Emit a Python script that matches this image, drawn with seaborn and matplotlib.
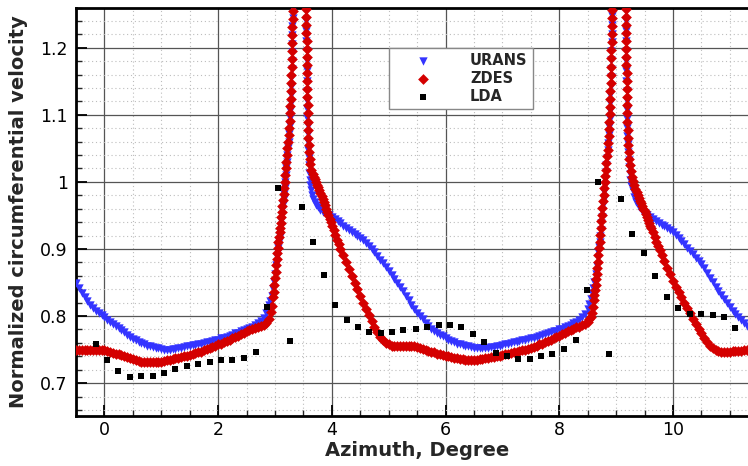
import numpy as np
import pandas as pd
import matplotlib
matplotlib.use("Agg")
import matplotlib.pyplot as plt
import seaborn as sns
from matplotlib.ticker import MultipleLocator, FuncFormatter

# ---------------- data ----------------
urans_pts = [
    (-0.50,0.849),(-0.45,0.842),(-0.40,0.835),(-0.35,0.829),(-0.30,0.822),(-0.25,0.817),(-0.20,0.812),
    (-0.15,0.808),(-0.10,0.804),(-0.05,0.801),(0.00,0.798),(0.05,0.794),(0.10,0.791),(0.15,0.788),
    (0.20,0.785),(0.25,0.782),(0.30,0.779),(0.35,0.776),(0.40,0.772),(0.45,0.769),(0.50,0.766),
    (0.55,0.764),(0.60,0.762),(0.65,0.760),(0.70,0.758),(0.75,0.756),(0.80,0.755),(0.85,0.754),
    (0.90,0.753),(0.95,0.752),(1.00,0.751),(1.05,0.750),(1.10,0.750),(1.15,0.750),(1.20,0.751),
    (1.25,0.751),(1.30,0.752),(1.35,0.753),(1.40,0.754),(1.45,0.755),(1.50,0.756),(1.55,0.757),
    (1.60,0.757),(1.65,0.758),(1.70,0.759),(1.75,0.760),(1.80,0.761),(1.85,0.762),(1.90,0.763),
    (1.95,0.764),(2.00,0.765),(2.05,0.767),(2.10,0.768),(2.15,0.769),(2.20,0.771),(2.25,0.772),
    (2.30,0.774),(2.35,0.775),(2.40,0.777),(2.45,0.779),(2.50,0.780),(2.55,0.782),(2.60,0.784),
    (2.65,0.786),(2.70,0.789),(2.75,0.792),(2.80,0.797),(2.85,0.805),(2.90,0.816),
    (2.92,0.822),(2.94,0.830),(2.96,0.840),(2.98,0.851),(3.00,0.863),(3.02,0.876),(3.04,0.888),
    (3.05,0.895),(3.06,0.902),(3.07,0.910),(3.08,0.918),(3.09,0.926),(3.10,0.934),(3.11,0.942),
    (3.12,0.950),(3.13,0.958),(3.14,0.966),(3.15,0.974),(3.16,0.982),(3.17,0.991),(3.18,1.000),
    (3.19,1.010),(3.20,1.020),(3.21,1.030),(3.22,1.040),(3.23,1.050),(3.24,1.060),(3.25,1.072),
    (3.26,1.084),(3.265,1.095),(3.27,1.106),(3.275,1.118),(3.28,1.130),(3.285,1.142),(3.29,1.155),
    (3.293,1.168),(3.296,1.180),(3.299,1.193),(3.302,1.206),(3.305,1.219),(3.308,1.232),
    (3.311,1.245),(3.314,1.258),(3.317,1.271),
    (3.545,1.270),(3.547,1.255),(3.549,1.240),(3.551,1.225),(3.553,1.210),(3.555,1.195),
    (3.557,1.180),(3.559,1.165),(3.561,1.150),(3.563,1.135),(3.565,1.120),(3.567,1.108),
    (3.570,1.095),(3.573,1.083),(3.576,1.071),(3.580,1.060),(3.585,1.048),(3.590,1.036),
    (3.595,1.025),(3.60,1.014),(3.61,1.003),(3.62,0.995),(3.63,0.988),(3.65,0.981),(3.67,0.975),
    (3.70,0.970),(3.73,0.966),(3.76,0.962),(3.80,0.958),(3.85,0.955),(3.90,0.952),(3.95,0.950),
    (4.00,0.947),(4.05,0.944),(4.10,0.941),(4.15,0.938),(4.20,0.935),(4.25,0.932),(4.30,0.929),
    (4.35,0.926),(4.40,0.923),(4.45,0.920),(4.50,0.917),(4.55,0.913),(4.60,0.909),(4.65,0.905),
    (4.70,0.900),(4.75,0.895),(4.80,0.890),(4.85,0.884),(4.90,0.879),(4.95,0.873),(5.00,0.867),
    (5.05,0.861),(5.10,0.855),(5.15,0.849),(5.20,0.843),(5.25,0.837),(5.30,0.830),(5.35,0.824),
    (5.40,0.817),(5.45,0.811),(5.50,0.805),(5.55,0.800),(5.60,0.795),(5.65,0.790),(5.70,0.785),
    (5.75,0.781),(5.80,0.778),(5.85,0.775),(5.90,0.772),(5.95,0.770),(6.00,0.767),(6.05,0.765),
    (6.10,0.763),(6.15,0.761),(6.20,0.759),(6.25,0.758),(6.30,0.757),(6.35,0.756),(6.40,0.755),
    (6.45,0.754),(6.50,0.753),(6.55,0.753),(6.60,0.752),(6.65,0.752),(6.70,0.753),(6.75,0.753),
    (6.80,0.754),(6.85,0.754),(6.90,0.755),(6.95,0.756),(7.00,0.757),(7.05,0.758),(7.10,0.759),
    (7.15,0.760),(7.20,0.761),(7.25,0.762),(7.30,0.763),(7.35,0.764),(7.40,0.765),(7.45,0.766),
    (7.50,0.767),(7.55,0.768),(7.60,0.769),(7.65,0.770),(7.70,0.772),(7.75,0.773),(7.80,0.774),
    (7.85,0.776),(7.90,0.777),(7.95,0.778),(8.00,0.780),(8.05,0.781),(8.10,0.783),(8.15,0.785),
    (8.20,0.787),(8.25,0.789),(8.30,0.791),(8.35,0.794),(8.40,0.798),(8.45,0.803),(8.50,0.810),
    (8.53,0.818),(8.56,0.826),(8.58,0.834),(8.60,0.842),(8.62,0.851),(8.64,0.862),(8.66,0.874),
    (8.68,0.887),(8.69,0.895),(8.70,0.903),(8.71,0.911),(8.72,0.920),(8.73,0.929),(8.74,0.938),
    (8.75,0.947),(8.76,0.956),(8.77,0.965),(8.78,0.975),(8.79,0.985),(8.80,0.995),(8.81,1.005),
    (8.82,1.015),(8.83,1.025),(8.84,1.036),(8.85,1.047),(8.86,1.058),(8.87,1.070),(8.88,1.082),
    (8.885,1.094),(8.89,1.106),(8.895,1.118),(8.90,1.130),(8.905,1.143),(8.91,1.156),
    (8.913,1.169),(8.916,1.182),(8.919,1.195),(8.922,1.208),(8.925,1.221),(8.928,1.234),
    (8.931,1.247),(8.934,1.260),(8.937,1.273),
    (9.165,1.270),(9.167,1.255),(9.169,1.240),(9.171,1.225),(9.173,1.210),(9.175,1.195),
    (9.177,1.180),(9.179,1.165),(9.181,1.150),(9.183,1.135),(9.185,1.120),(9.188,1.107),
    (9.191,1.094),(9.195,1.081),(9.20,1.068),(9.205,1.056),(9.21,1.045),(9.22,1.033),
    (9.23,1.022),(9.24,1.012),(9.25,1.003),(9.27,0.994),(9.29,0.986),(9.32,0.978),(9.35,0.970),
    (9.40,0.963),(9.45,0.957),(9.50,0.953),(9.55,0.950),(9.60,0.947),(9.65,0.945),(9.70,0.942),
    (9.75,0.939),(9.80,0.936),(9.85,0.934),(9.90,0.931),(9.95,0.928),(10.00,0.925),(10.05,0.921),
    (10.10,0.916),(10.15,0.912),(10.20,0.907),(10.25,0.902),(10.30,0.897),(10.35,0.892),
    (10.40,0.887),(10.45,0.882),(10.50,0.877),(10.55,0.871),(10.60,0.864),(10.65,0.857),
    (10.70,0.851),(10.75,0.844),(10.80,0.837),(10.85,0.831),(10.90,0.825),(10.95,0.819),
    (11.00,0.813),(11.05,0.808),(11.10,0.803),(11.15,0.798),(11.20,0.794),(11.25,0.789),
    (11.30,0.785),(11.35,0.781),
]

zdes_pts = [
    (-0.50,0.749),(-0.45,0.749),(-0.40,0.749),(-0.35,0.749),(-0.30,0.749),(-0.25,0.749),(-0.20,0.750),
    (-0.15,0.750),(-0.10,0.750),(-0.05,0.750),(0.00,0.749),(0.05,0.748),(0.10,0.747),(0.15,0.745),
    (0.20,0.744),(0.25,0.743),(0.30,0.742),(0.35,0.740),(0.40,0.739),(0.45,0.737),(0.50,0.736),
    (0.55,0.734),(0.60,0.733),(0.65,0.732),(0.70,0.731),(0.75,0.731),(0.80,0.731),(0.85,0.731),
    (0.90,0.731),(0.95,0.732),(1.00,0.732),(1.05,0.733),(1.10,0.734),(1.15,0.735),(1.20,0.736),
    (1.25,0.737),(1.30,0.738),(1.35,0.739),(1.40,0.740),(1.45,0.741),(1.50,0.742),(1.55,0.743),
    (1.60,0.745),(1.65,0.746),(1.70,0.747),(1.75,0.749),(1.80,0.751),(1.85,0.752),(1.90,0.754),
    (1.95,0.756),(2.00,0.758),(2.05,0.759),(2.10,0.761),(2.15,0.763),(2.20,0.765),(2.25,0.767),
    (2.30,0.769),(2.35,0.771),(2.40,0.773),(2.45,0.775),(2.50,0.777),(2.55,0.779),(2.60,0.780),
    (2.65,0.782),(2.70,0.783),(2.75,0.785),(2.80,0.787),(2.85,0.790),(2.90,0.796),
    (2.93,0.806),(2.95,0.815),(2.97,0.828),(2.98,0.836),(2.99,0.846),(3.00,0.856),(3.01,0.866),
    (3.02,0.876),(3.03,0.885),(3.04,0.894),(3.05,0.902),(3.06,0.911),(3.07,0.918),(3.08,0.925),
    (3.09,0.932),(3.10,0.939),(3.11,0.947),(3.12,0.955),(3.13,0.964),(3.14,0.973),(3.15,0.982),
    (3.16,0.991),(3.17,1.000),(3.18,1.010),(3.19,1.020),(3.20,1.030),(3.21,1.040),(3.22,1.050),
    (3.23,1.060),(3.24,1.070),(3.25,1.080),(3.26,1.091),(3.265,1.102),(3.27,1.113),(3.275,1.124),
    (3.28,1.135),(3.285,1.147),(3.29,1.159),(3.293,1.171),(3.296,1.183),(3.299,1.195),
    (3.302,1.207),(3.305,1.219),(3.308,1.231),(3.311,1.243),(3.314,1.255),(3.317,1.267),
    (3.545,1.270),(3.547,1.258),(3.549,1.246),(3.551,1.234),(3.553,1.222),(3.555,1.210),
    (3.557,1.198),(3.559,1.186),(3.561,1.174),(3.563,1.162),(3.565,1.150),(3.567,1.138),
    (3.569,1.126),(3.572,1.114),(3.575,1.102),(3.578,1.090),(3.582,1.078),(3.586,1.066),
    (3.59,1.055),(3.60,1.044),(3.61,1.034),(3.62,1.026),(3.64,1.018),(3.66,1.012),(3.68,1.008),
    (3.70,1.004),(3.72,1.000),(3.74,0.996),(3.76,0.992),(3.78,0.988),(3.80,0.984),(3.82,0.979),
    (3.84,0.975),(3.86,0.970),(3.88,0.965),(3.90,0.960),(3.92,0.955),(3.94,0.950),(3.96,0.945),
    (3.98,0.940),(4.00,0.935),(4.03,0.928),(4.06,0.921),(4.09,0.914),(4.12,0.907),(4.15,0.900),
    (4.20,0.891),(4.25,0.880),(4.30,0.870),(4.35,0.860),(4.40,0.850),(4.45,0.840),(4.50,0.830),
    (4.55,0.820),(4.60,0.810),(4.65,0.801),(4.70,0.792),(4.75,0.783),(4.80,0.776),(4.85,0.769),
    (4.90,0.764),(4.95,0.760),(5.00,0.758),(5.05,0.756),(5.10,0.755),(5.15,0.755),(5.20,0.755),
    (5.25,0.755),(5.30,0.756),(5.35,0.756),(5.40,0.756),(5.45,0.755),(5.50,0.754),(5.55,0.753),
    (5.60,0.751),(5.65,0.749),(5.70,0.748),(5.75,0.747),(5.80,0.746),(5.85,0.744),(5.90,0.743),
    (5.95,0.742),(6.00,0.741),(6.05,0.740),(6.10,0.739),(6.15,0.738),(6.20,0.737),(6.25,0.736),
    (6.30,0.736),(6.35,0.735),(6.40,0.735),(6.45,0.735),(6.50,0.735),(6.55,0.735),(6.60,0.736),
    (6.65,0.736),(6.70,0.737),(6.75,0.738),(6.80,0.739),(6.85,0.739),(6.90,0.740),(6.95,0.741),
    (7.00,0.742),(7.05,0.743),(7.10,0.744),(7.15,0.745),(7.20,0.746),(7.25,0.747),(7.30,0.748),
    (7.35,0.749),(7.40,0.750),(7.45,0.751),(7.50,0.753),(7.55,0.754),(7.60,0.756),(7.65,0.758),
    (7.70,0.759),(7.75,0.761),(7.80,0.763),(7.85,0.765),(7.90,0.767),(7.95,0.769),(8.00,0.771),
    (8.05,0.773),(8.10,0.775),(8.15,0.777),(8.20,0.779),(8.25,0.781),(8.30,0.783),(8.35,0.784),
    (8.40,0.786),(8.45,0.788),(8.50,0.791),(8.53,0.795),(8.55,0.799),
    (8.57,0.805),(8.59,0.814),(8.61,0.824),(8.62,0.831),(8.63,0.839),(8.64,0.847),(8.65,0.855),
    (8.66,0.863),(8.67,0.871),(8.68,0.881),(8.69,0.891),(8.70,0.901),(8.71,0.911),(8.72,0.921),
    (8.73,0.931),(8.74,0.941),(8.75,0.951),(8.76,0.961),(8.77,0.971),(8.78,0.981),(8.79,0.991),
    (8.80,1.000),(8.81,1.009),(8.82,1.018),(8.83,1.028),(8.84,1.038),(8.85,1.048),(8.86,1.058),
    (8.87,1.068),(8.875,1.079),(8.88,1.090),(8.885,1.101),(8.89,1.112),(8.895,1.124),(8.90,1.136),
    (8.905,1.148),(8.91,1.160),(8.913,1.172),(8.916,1.184),(8.919,1.196),(8.922,1.208),
    (8.925,1.220),(8.928,1.232),(8.931,1.244),(8.934,1.256),(8.937,1.268),
    (9.165,1.270),(9.167,1.258),(9.169,1.246),(9.171,1.234),(9.173,1.222),(9.175,1.210),
    (9.177,1.198),(9.179,1.186),(9.181,1.174),(9.183,1.162),(9.185,1.150),(9.187,1.138),
    (9.189,1.126),(9.192,1.114),(9.195,1.102),(9.198,1.090),(9.202,1.078),(9.206,1.066),
    (9.21,1.055),(9.22,1.044),(9.23,1.034),(9.24,1.025),(9.26,1.016),(9.28,1.008),(9.30,1.002),
    (9.32,0.996),(9.34,0.990),(9.36,0.985),(9.38,0.980),(9.40,0.976),(9.42,0.972),(9.44,0.968),
    (9.46,0.964),(9.48,0.960),(9.50,0.956),(9.52,0.952),(9.54,0.947),(9.56,0.943),(9.58,0.939),
    (9.60,0.935),(9.62,0.931),(9.65,0.925),(9.68,0.918),(9.71,0.911),(9.74,0.904),(9.77,0.898),
    (9.80,0.891),(9.85,0.882),(9.90,0.872),(9.95,0.862),(10.00,0.853),(10.05,0.844),(10.10,0.836),
    (10.15,0.828),(10.20,0.820),(10.25,0.812),(10.30,0.804),(10.35,0.796),(10.40,0.788),
    (10.45,0.781),(10.50,0.774),(10.55,0.767),(10.60,0.761),(10.65,0.756),(10.70,0.752),
    (10.75,0.749),(10.80,0.748),(10.85,0.747),(10.90,0.747),(10.95,0.747),(11.00,0.747),
    (11.05,0.748),(11.10,0.748),(11.15,0.748),(11.20,0.748),(11.25,0.749),(11.30,0.749),
    (11.35,0.749),
]

lda_x = [-0.15, 0.04, 0.24, 0.45, 0.65, 0.85, 1.05, 1.25, 1.46, 1.65, 1.85, 2.05, 2.25, 2.46,
         2.66, 2.86, 3.06, 3.27, 3.47, 3.66, 3.86, 4.06, 4.26, 4.46, 4.66, 4.86, 5.06, 5.26,
         5.48, 5.67, 5.88, 6.08, 6.28, 6.48, 6.68, 6.88, 7.08, 7.28, 7.48, 7.68, 7.88, 8.09,
         8.29, 8.49, 8.69, 8.88, 9.08, 9.28, 9.49, 9.69, 9.89, 10.09, 10.30, 10.50, 10.70,
         10.90, 11.10]
lda_y = [0.759, 0.734, 0.718, 0.709, 0.711, 0.711, 0.715, 0.721, 0.725, 0.729, 0.732, 0.735,
         0.735, 0.738, 0.747, 0.814, 0.991, 0.763, 0.963, 0.911, 0.861, 0.816, 0.794, 0.783,
         0.776, 0.775, 0.776, 0.779, 0.780, 0.784, 0.786, 0.786, 0.783, 0.773, 0.761, 0.745,
         0.741, 0.736, 0.736, 0.740, 0.743, 0.751, 0.765, 0.839, 1.000, 0.743, 0.974, 0.923,
         0.894, 0.860, 0.828, 0.812, 0.803, 0.803, 0.801, 0.799, 0.782]

urans_x = [p[0] for p in urans_pts]
urans_y = [p[1] for p in urans_pts]
zdes_x = [p[0] for p in zdes_pts]
zdes_y = [p[1] for p in zdes_pts]

series_names = ["URANS", "ZDES", "LDA"]
x_ticks = [0, 2, 4, 6, 8, 10]
y_ticks = [0.7, 0.8, 0.9, 1.0, 1.1, 1.2]

# ---------------- figure ----------------
sns.set_theme(style="ticks")
plt.rcParams['font.family'] = ['DejaVu Sans']

fig = plt.figure(figsize=(7.48, 4.66), dpi=100)
ax = fig.add_axes([76 / 748, 50 / 466, 672 / 748, 408.5 / 466])

sns.scatterplot(x=urans_x, y=urans_y, marker='v', color='#3434ff', s=36,
                linewidth=0, ax=ax, label=series_names[0], zorder=3)
sns.scatterplot(x=zdes_x, y=zdes_y, marker='D', color='#d40000', s=30,
                linewidth=0, ax=ax, label=series_names[1], zorder=4)
sns.scatterplot(x=lda_x, y=lda_y, marker='s', color='black', s=24,
                linewidth=0, ax=ax, label=series_names[2], zorder=5)

ax.set_xlim(-0.5, 11.32)
ax.set_ylim(0.651, 1.26)
ax.set_xticks(x_ticks)
ax.set_yticks(y_ticks)
ax.xaxis.set_minor_locator(MultipleLocator(0.5))
ax.yaxis.set_minor_locator(MultipleLocator(0.02))
ax.yaxis.set_major_formatter(FuncFormatter(lambda v, p: f"{v:g}"))

ax.set_axisbelow(True)
ax.grid(which='major', color='#555555', lw=0.9, ls='-')
ax.grid(which='minor', color='#bdbdbd', lw=0.8, ls=(0, (1, 2.5)))

ax.tick_params(axis='x', which='major', pad=3.5)
ax.tick_params(axis='y', which='major', pad=6)
ax.tick_params(which='major', direction='in', length=8, width=1.3, labelsize=12.5,
               bottom=True, left=True, top=False, right=False, colors='black')
ax.tick_params(which='minor', direction='in', length=4, width=1.0,
               bottom=True, left=True, top=False, right=False)

for side in ['left', 'bottom', 'top']:
    ax.spines[side].set_linewidth(2)
    ax.spines[side].set_color('black')
ax.spines['right'].set_visible(False)

ax.set_xlabel("Azimuth, Degree", fontsize=14, fontweight='bold')
ax.set_ylabel("Normalized circumferential velocity", fontsize=14, fontweight='bold')
ax.xaxis.set_label_coords(0.507, -0.062)
ax.yaxis.set_label_coords(-0.072, 0.5)

leg = ax.legend(loc='upper left', bbox_to_anchor=(0.466, 0.901), frameon=True,
                fancybox=False, edgecolor='#888888', framealpha=1,
                prop={'weight': 'bold', 'size': 10.5}, handlelength=3.9,
                handletextpad=1.3, borderpad=0.35, labelspacing=0.2, borderaxespad=0)
leg.get_frame().set_linewidth(1.0)

fig.savefig("out.png", dpi=100)
